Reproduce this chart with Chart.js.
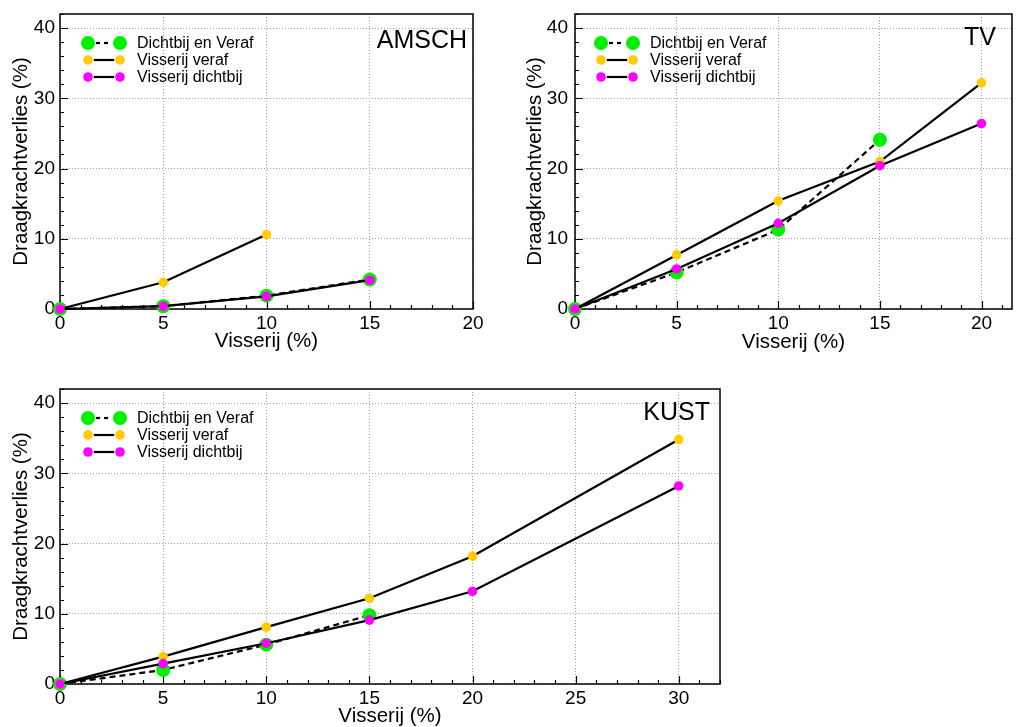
<!DOCTYPE html>
<html>
<head>
<meta charset="utf-8">
<script src="https://cdn.jsdelivr.net/npm/chart.js@4.4.1/dist/chart.umd.min.js"></script>
<style>
  body { margin: 0; background: #fff; width: 1019px; height: 727px; overflow: hidden; position: relative; }
  .pane { position: absolute; }
</style>
</head>
<body>
<div class="pane" style="left:0;top:0"><canvas id="amsch" width="510" height="360"></canvas></div>
<div class="pane" style="left:510px;top:0"><canvas id="tv" width="509" height="360"></canvas></div>
<div class="pane" style="left:0;top:370px"><canvas id="kust" width="760" height="357"></canvas></div>
<script>
const FONT = "'Liberation Sans', Arial, Helvetica, sans-serif";

// AMSCH
const amschBeideX = [0, 5, 10, 15];
const amschBeide = [0, 0.4, 1.9, 4.2];
const amschVerafX = [0, 5, 10];
const amschVeraf = [0, 3.8, 10.6];
const amschDichtbijX = [0, 5, 10, 15];
const amschDichtbij = [0, 0.4, 1.8, 4.1];

// TV
const tvBeideX = [0, 5, 10, 15];
const tvBeide = [0, 5.2, 11.3, 24.1];
const tvX = [0, 5, 10, 15, 20];
const tvVeraf = [0, 7.7, 15.4, 21.0, 32.2];
const tvDichtbij = [0, 5.7, 12.2, 20.4, 26.4];

// KUST
const kustBeideX = [0, 5, 10, 15];
const kustBeide = [0, 2.0, 5.6, 9.8];
const kustX = [0, 5, 10, 15, 20, 30];
const kustVeraf = [0, 3.9, 8.1, 12.2, 18.2, 34.8];
const kustDichtbij = [0, 2.9, 5.8, 9.1, 13.2, 28.2];

const seriesNames = ['Dichtbij en Veraf', 'Visserij veraf', 'Visserij dichtbij'];
const seriesColors = ['#00ee00', '#ffcc00', '#ff00ff'];

function pts(xs, ys) {
    return ys.map((y, i) => ({ x: xs[i], y: y }));
}

function makeDatasets(beideX, beide, verafX, veraf, dichtbijX, dichtbij) {
    // the combined series sits underneath, the two fishing series on top
    const base = { borderColor: '#000', borderWidth: 2.2, pointBorderWidth: 0, clip: false, tension: 0 };
    return [
        Object.assign({}, base, { label: seriesNames[0], data: pts(beideX, beide), borderDash: [6, 4],
            pointRadius: 7, pointBackgroundColor: seriesColors[0], order: 3 }),
        Object.assign({}, base, { label: seriesNames[1], data: pts(verafX, veraf),
            pointRadius: 4.8, pointBackgroundColor: seriesColors[1], order: 2 }),
        Object.assign({}, base, { label: seriesNames[2], data: pts(dichtbijX, dichtbij),
            pointRadius: 4.8, pointBackgroundColor: seriesColors[2], order: 1 })
    ];
}

// frame round the plot with the small inward ticks
const frameTicks = {
    id: 'frameTicks',
    beforeDatasetsDraw(chart) {
        const { ctx, chartArea: a, scales: { x, y } } = chart;
        ctx.save();
        ctx.strokeStyle = '#000';
        ctx.lineWidth = 1.5;
        ctx.strokeRect(a.left, a.top, a.right - a.left, a.bottom - a.top);
        ctx.lineWidth = 1.2;
        ctx.beginPath();
        for (let v = 0; v <= x.max + 1e-9; v += 1) {
            const px = Math.round(x.getPixelForValue(v)) + 0.5;
            const len = v % 5 === 0 ? 8 : 4;
            ctx.moveTo(px, a.bottom);
            ctx.lineTo(px, a.bottom - len);
        }
        for (let v = 0; v <= y.max + 1e-9; v += 2) {
            const py = Math.round(y.getPixelForValue(v)) + 0.5;
            const len = v % 10 === 0 ? 8 : 4;
            ctx.moveTo(a.left, py);
            ctx.lineTo(a.left + len, py);
        }
        ctx.stroke();
        ctx.restore();
    }
};

// legend with a marker at both ends of the line sample
const paneLegend = {
    id: 'paneLegend',
    afterDraw(chart, args, opts) {
        const { ctx, chartArea: a } = chart;
        ctx.save();
        ctx.font = '16px ' + FONT;
        ctx.textBaseline = 'middle';
        ctx.fillStyle = '#000';
        chart.data.datasets.forEach((ds, i) => {
            const yy = a.top + opts.y + i * opts.dy;
            const x1 = a.left + opts.x;
            const x2 = x1 + 32;
            const r = ds.pointRadius;
            ctx.strokeStyle = '#000';
            ctx.lineWidth = 2.2;
            ctx.setLineDash(ds.borderDash ? [4, 4] : []);
            ctx.beginPath();
            ctx.moveTo(x1 + r + 1, yy);
            ctx.lineTo(x2 - r - 1, yy);
            ctx.stroke();
            ctx.setLineDash([]);
            ctx.fillStyle = ds.pointBackgroundColor;
            [x1, x2].forEach(cx => {
                ctx.beginPath();
                ctx.arc(cx, yy, r, 0, Math.PI * 2);
                ctx.fill();
            });
            ctx.fillStyle = '#000';
            ctx.fillText(ds.label, x1 + 49, yy + 1);
        });
        ctx.restore();
    }
};

// region name in the upper right corner
const paneLabel = {
    id: 'paneLabel',
    afterDraw(chart, args, opts) {
        const { ctx, chartArea: a } = chart;
        ctx.save();
        ctx.font = '25px ' + FONT;
        ctx.fillStyle = '#000';
        ctx.textAlign = 'right';
        ctx.textBaseline = 'alphabetic';
        ctx.fillText(opts.text, a.right - opts.right, a.top + opts.base);
        ctx.restore();
    }
};

function buildChart(id, datasets, o) {
    return new Chart(document.getElementById(id), {
        type: 'line',
        data: { datasets: datasets },
        options: {
            responsive: false,
            animation: false,
            events: [],
            layout: { padding: o.padding },
            plugins: {
                legend: { display: false },
                tooltip: { enabled: false },
                paneLegend: { x: o.legendX, y: 29, dy: 17 },
                paneLabel: { text: o.label, right: o.labelRight, base: o.labelBase }
            },
            scales: {
                x: {
                    type: 'linear',
                    min: 0,
                    max: o.xMax,
                    afterFit(s) { s.height = o.xHeight; s.paddingLeft = 0; s.paddingRight = 0; },
                    ticks: { stepSize: 5, includeBounds: false, padding: 3, maxRotation: 0, color: '#000',
                        font: { family: FONT, size: 19 } },
                    grid: { drawTicks: false, color: '#a0a0a0', lineWidth: 1 },
                    border: { display: false, dash: [1, 2] },
                    title: { display: true, text: 'Visserij (%)', color: '#000',
                        font: { family: FONT, size: 20.5, lineHeight: 1 },
                        padding: { top: 0, bottom: o.xTitlePad } }
                },
                y: {
                    min: 0,
                    max: 42,
                    afterFit(s) { s.width = o.yWidth; s.paddingTop = 0; s.paddingBottom = 0; },
                    ticks: { stepSize: 10, includeBounds: false, padding: o.yTickPad, color: '#000',
                        font: { family: FONT, size: 19 } },
                    grid: { drawTicks: false, color: '#a0a0a0', lineWidth: 1 },
                    border: { display: false, dash: [1, 2] },
                    title: { display: true, text: 'Draagkrachtverlies (%)', color: '#000',
                        font: { family: FONT, size: 20.5, lineHeight: 1 },
                        padding: { top: o.yTitlePad, bottom: 0 } }
                }
            }
        },
        plugins: [frameTicks, paneLegend, paneLabel]
    });
}

buildChart('amsch',
    makeDatasets(amschBeideX, amschBeide, amschVerafX, amschVeraf, amschDichtbijX, amschDichtbij),
    { padding: { top: 14, right: 37, bottom: 0, left: 0 }, xMax: 20, xHeight: 51, yWidth: 60,
      xTitlePad: 8, yTitlePad: 11, yTickPad: 5, legendX: 28, label: 'AMSCH', labelRight: 6, labelBase: 34 });

buildChart('tv',
    makeDatasets(tvBeideX, tvBeide, tvX, tvVeraf, tvX, tvDichtbij),
    { padding: { top: 14, right: 1, bottom: 0, left: 0 }, xMax: 21.5, xHeight: 51, yWidth: 65,
      xTitlePad: 7, yTitlePad: 15, yTickPad: 7, legendX: 26, label: 'TV', labelRight: 16, labelBase: 31 });

buildChart('kust',
    makeDatasets(kustBeideX, kustBeide, kustX, kustVeraf, kustX, kustDichtbij),
    { padding: { top: 19, right: 40, bottom: 0, left: 0 }, xMax: 32, xHeight: 43, yWidth: 60,
      xTitlePad: 0, yTitlePad: 11, yTickPad: 5, legendX: 28, label: 'KUST', labelRight: 10, labelBase: 31 });
</script>
</body>
</html>
